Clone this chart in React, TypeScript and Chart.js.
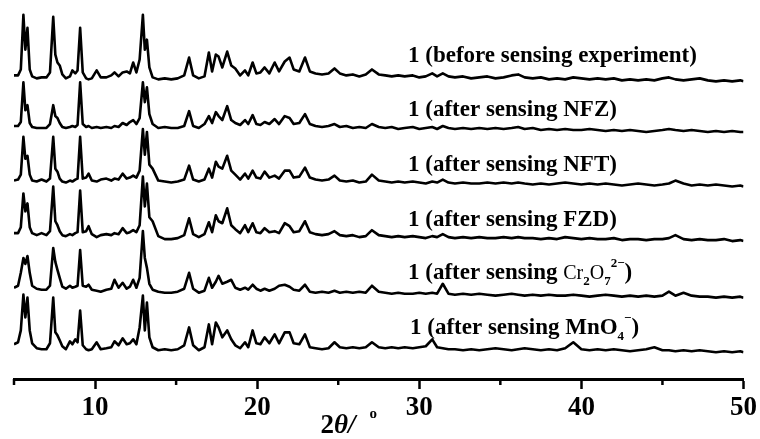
import React, { useEffect, useRef } from "react";
import { Chart, registerables } from "chart.js";
Chart.register(...registerables);

// 2θ grid (degrees) shared by all six patterns
const twoTheta = [
  5.0, 5.25, 5.42, 5.58, 5.7, 5.83, 5.97, 6.12, 6.4, 6.7, 7.0, 7.22, 7.42, 7.55, 7.68, 7.82, 7.98, 8.2, 8.45, 8.6, 8.78, 8.92, 9.08, 9.24, 9.45, 9.6, 9.8,
  10.1, 10.35, 10.7, 11.0, 11.2, 11.45, 11.7, 11.95, 12.15, 12.35, 12.55, 12.75, 12.95, 13.07, 13.2, 13.35, 13.55, 13.9, 14.3, 14.7, 15.1, 15.5, 15.8, 16.05, 16.4, 16.75, 17.02, 17.22, 17.45, 17.62, 17.85, 18.15, 18.4, 18.65, 18.95, 19.25, 19.45, 19.72, 19.95,
  20.2, 20.46, 20.75, 21.08, 21.35, 21.7, 22.0, 22.25, 22.6, 22.95, 23.25, 23.6, 24.0, 24.4, 24.77, 25.1, 25.5, 25.9, 26.3, 26.7, 27.08, 27.5, 27.9, 28.3, 28.7, 29.1, 29.6, 30.0, 30.4, 30.8, 31.1, 31.45, 31.8,
  32.2, 32.7, 33.2, 33.7, 34.2, 34.7, 35.2, 35.7, 36.1, 36.5, 37.0, 37.5, 38.0, 38.5, 39.0, 39.5, 40.0, 40.5, 41.0, 41.5, 42.0, 42.5, 43.0, 43.5, 44.0, 44.5, 45.0, 45.4, 45.8, 46.3, 46.8, 47.3, 47.8, 48.3, 48.8, 49.3, 49.8, 50.0,
];

// intensities (a.u.)
const beforeSensing = [
  6, 6, 12, 67, 32, 54, 12, 5, 3, 4, 4, 9, 65, 27, 19, 16, 7, 3, 5, 11, 8, 11, 54, 9, 3, 2, 3,
  11, 4, 4, 6, 9, 5, 9, 10, 8, 19, 9, 22, 67, 32, 42, 14, 4, 2, 3, 2, 3, 6, 24, 6, 3, 5, 29, 10, 27, 25, 14, 30, 16, 13, 6, 11, 6, 19, 8,
  9, 14, 8, 19, 10, 20, 24, 12, 10, 24, 10, 8, 7, 8, 13, 8, 6, 7, 5, 7, 12, 7, 6, 5, 6, 5, 6, 4, 5, 8, 5, 8, 5,
  4, 5, 3, 4, 5, 3, 4, 6, 7, 4, 3, 4, 2, 3, 2, 4, 3, 2, 3, 2, 3, 1, 2, 1, 2, 1, 3, 4, 2, 1, 2, 3, 1, 0, 1, 0, 1, 0,
];
const afterNFZ = [
  6, 6, 10, 50, 22, 27, 9, 5, 4, 4, 4, 8, 27, 16, 14, 9, 5, 4, 5, 6, 5, 7, 50, 8, 5, 6, 4,
  5, 4, 5, 4, 6, 5, 9, 7, 10, 12, 8, 14, 50, 30, 45, 18, 8, 4, 5, 4, 4, 6, 21, 6, 4, 8, 16, 9, 20, 16, 12, 26, 12, 9, 7, 12, 8, 17, 8,
  7, 10, 8, 13, 8, 16, 14, 8, 9, 18, 8, 6, 5, 6, 8, 5, 6, 4, 5, 4, 8, 5, 4, 5, 3, 4, 5, 3, 4, 5, 3, 6, 4,
  3, 4, 3, 4, 3, 4, 3, 4, 5, 3, 4, 2, 3, 2, 3, 2, 2, 3, 2, 1, 2, 1, 2, 1, 0, 1, 2, 3, 2, 1, 2, 1, 0, 1, 0, 1, 0, 0,
];
const afterNFT = [
  6, 7, 12, 50, 28, 31, 12, 6, 5, 7, 5, 8, 50, 18, 15, 8, 5, 4, 6, 5, 7, 8, 50, 8, 9, 13, 6,
  5, 7, 8, 6, 8, 7, 13, 8, 9, 11, 9, 16, 58, 32, 55, 22, 18, 6, 5, 4, 5, 7, 21, 7, 5, 7, 18, 9, 25, 20, 18, 31, 16, 12, 7, 13, 8, 16, 9,
  8, 15, 9, 11, 8, 16, 16, 9, 10, 19, 9, 7, 6, 7, 11, 6, 5, 6, 4, 5, 12, 6, 5, 4, 5, 4, 5, 4, 3, 5, 4, 7, 4,
  3, 4, 3, 3, 4, 3, 4, 3, 4, 3, 2, 3, 2, 3, 4, 3, 2, 3, 2, 3, 2, 1, 2, 3, 2, 1, 2, 3, 6, 3, 1, 2, 1, 2, 1, 0, 1, 0,
];
const afterFZD = [
  8, 8, 14, 48, 30, 38, 14, 8, 6, 8, 6, 10, 55, 20, 16, 10, 6, 5, 7, 6, 8, 9, 51, 9, 10, 15, 7,
  4, 6, 7, 6, 8, 7, 13, 8, 9, 11, 9, 16, 65, 35, 58, 24, 20, 5, 2, 2, 3, 6, 23, 7, 4, 7, 19, 9, 26, 20, 18, 33, 16, 12, 8, 16, 9, 18, 9,
  8, 13, 9, 10, 8, 18, 15, 9, 10, 20, 9, 7, 6, 7, 10, 6, 5, 6, 4, 5, 11, 6, 5, 4, 5, 4, 5, 4, 3, 5, 4, 7, 4,
  3, 4, 3, 4, 3, 3, 4, 3, 4, 3, 3, 2, 3, 2, 4, 3, 2, 3, 2, 2, 3, 1, 2, 2, 1, 2, 2, 3, 6, 2, 1, 2, 1, 1, 2, 0, 1, 0,
];
const afterCr2O7 = [
  10, 12, 25, 40, 34, 42, 25, 12, 9, 8, 8, 12, 50, 36, 28, 20, 11, 9, 12, 10, 11, 12, 48, 12, 11, 13, 8,
  7, 6, 8, 9, 18, 10, 15, 9, 11, 18, 10, 20, 67, 40, 30, 14, 8, 6, 5, 5, 6, 9, 25, 9, 5, 7, 20, 10, 16, 22, 14, 16, 18, 10, 8, 10, 8, 13, 9,
  7, 9, 7, 9, 12, 13, 11, 8, 7, 13, 6, 5, 6, 5, 7, 5, 6, 5, 6, 5, 12, 6, 5, 4, 5, 4, 4, 5, 4, 5, 4, 14, 4,
  3, 4, 3, 4, 3, 2, 3, 4, 3, 2, 3, 2, 3, 2, 2, 3, 2, 1, 2, 3, 2, 1, 2, 1, 2, 1, 2, 6, 2, 5, 2, 1, 1, 0, 1, 0, 1, 0,
];
const afterMnO4 = [
  8, 10, 22, 58, 35, 55, 22, 9, 4, 3, 3, 9, 55, 20, 17, 12, 6, 3, 11, 8, 13, 10, 42, 7, 3, 2, 3,
  10, 3, 4, 5, 11, 7, 14, 8, 9, 13, 8, 25, 57, 22, 50, 15, 5, 2, 3, 2, 3, 7, 25, 7, 2, 5, 28, 8, 30, 25, 15, 22, 13, 7, 4, 10, 5, 22, 9,
  8, 15, 9, 18, 9, 20, 20, 9, 8, 18, 5, 4, 3, 4, 10, 5, 4, 5, 4, 5, 10, 5, 4, 5, 4, 5, 4, 5, 6, 13, 5, 4, 3,
  3, 2, 3, 2, 3, 4, 3, 2, 3, 4, 3, 2, 3, 2, 4, 10, 3, 2, 3, 2, 3, 2, 1, 2, 3, 5, 2, 2, 1, 2, 1, 2, 1, 0, 1, 0, 1, 0,
];

const seriesList = [beforeSensing, afterNFZ, afterNFT, afterFZD, afterCr2O7, afterMnO4];
// vertical stacking offsets (a.u.)
const offsets = [300, 249, 194, 139, 82, 27];
const majorTicks = [10, 20, 30, 40, 50];
const minorTicks = [5, 15, 25, 35, 45];

type Run = { t: string; kind?: "sub" | "sup" | "chem" };
const labelRuns: Run[][] = [
  [{ t: "1 (before sensing experiment)" }],
  [{ t: "1 (after sensing NFZ)" }],
  [{ t: "1 (after sensing NFT)" }],
  [{ t: "1 (after sensing FZD)" }],
  [
    { t: "1 (after sensing " },
    { t: "Cr", kind: "chem" },
    { t: "2", kind: "sub" },
    { t: "O", kind: "chem" },
    { t: "7", kind: "sub" },
    { t: "2\u2212", kind: "sup" },
    { t: ")" },
  ],
  [
    { t: "1 (after sensing " },
    { t: "MnO" },
    { t: "4", kind: "sub" },
    { t: "\u2212", kind: "sup" },
    { t: ")" },
  ],
];
const labelX = [408, 408, 408, 408, 408, 410];
const labelBaseline = [62, 116, 171, 226, 279, 334];

const SERIF = '"Liberation Serif", "Times New Roman", serif';

const overlayPlugin = {
  id: "overlay",
  afterDraw(chart: any) {
    const ctx = chart.ctx as CanvasRenderingContext2D;
    const xs = chart.scales.x;
    const bottom = chart.chartArea.bottom;
    ctx.save();
    // minor ticks
    ctx.strokeStyle = "#000";
    ctx.lineWidth = 2.5;
    for (const v of minorTicks) {
      const px = xs.getPixelForValue(v);
      ctx.beginPath();
      ctx.moveTo(px, bottom);
      ctx.lineTo(px, bottom + 6);
      ctx.stroke();
    }
    // curve labels
    ctx.fillStyle = "#000";
    ctx.textBaseline = "alphabetic";
    ctx.textAlign = "left";
    labelRuns.forEach((runs, i) => {
      let x = labelX[i];
      const y = labelBaseline[i];
      for (const r of runs) {
        let dy = 0;
        if (r.kind === "sub") {
          ctx.font = `bold 13px ${SERIF}`;
          dy = 6;
        } else if (r.kind === "sup") {
          ctx.font = `bold 13px ${SERIF}`;
          dy = -12;
        } else if (r.kind === "chem") {
          ctx.font = `20px ${SERIF}`;
        } else {
          ctx.font = `bold 23px ${SERIF}`;
        }
        ctx.fillText(r.t, x, y + dy);
        x += ctx.measureText(r.t).width;
      }
    });
    // axis title: 2θ/ °
    let tx = xs.getPixelForValue(23.9);
    const ty = 433;
    ctx.font = `bold 27px ${SERIF}`;
    ctx.fillText("2", tx, ty);
    tx += ctx.measureText("2").width;
    ctx.font = `italic bold 27px ${SERIF}`;
    ctx.fillText("\u03B8/", tx, ty);
    tx += ctx.measureText("\u03B8/").width + 14;
    ctx.font = `bold 15px ${SERIF}`;
    ctx.fillText("o", tx, 418);
    ctx.restore();
  },
};

export default function App() {
  const ref = useRef<HTMLCanvasElement | null>(null);
  useEffect(() => {
    document.body.style.margin = "0";
    const canvas = ref.current;
    if (!canvas) return;
    const chart = new Chart(canvas, {
      type: "line",
      data: {
        datasets: seriesList.map((s, k) => ({
          data: twoTheta.map((x, i) => ({ x, y: s[i] + offsets[k] })),
          borderColor: "#000",
          borderWidth: 2.6,
          borderJoinStyle: "round" as const,
          pointRadius: 0,
          tension: 0,
          fill: false,
        })),
      },
      options: {
        responsive: false,
        animation: false,
        devicePixelRatio: 1,
        layout: { padding: { left: 14, right: 15, top: 0, bottom: 11.6 } },
        plugins: { legend: { display: false }, tooltip: { enabled: false }, title: { display: false } },
        scales: {
          x: {
            type: "linear",
            min: 5,
            max: 50,
            afterBuildTicks: (axis: any) => {
              axis.ticks = majorTicks.map((v) => ({ value: v }));
            },
            grid: {
              drawOnChartArea: false,
              drawTicks: true,
              tickLength: 10,
              tickWidth: 2.5,
              tickColor: "#000",
            },
            border: { display: true, color: "#000", width: 3 },
            ticks: {
              color: "#000",
              font: { family: SERIF, size: 27, weight: "bold" },
              padding: 3,
              maxRotation: 0,
              autoSkip: false,
            },
          },
          y: { type: "linear", min: 0, max: 382, display: false },
        },
      },
      plugins: [overlayPlugin],
    });
    return () => chart.destroy();
  }, []);
  return (
    <div style={{ width: 760, height: 439, background: "#fff" }}>
      <canvas ref={ref} width={760} height={439} />
    </div>
  );
}
